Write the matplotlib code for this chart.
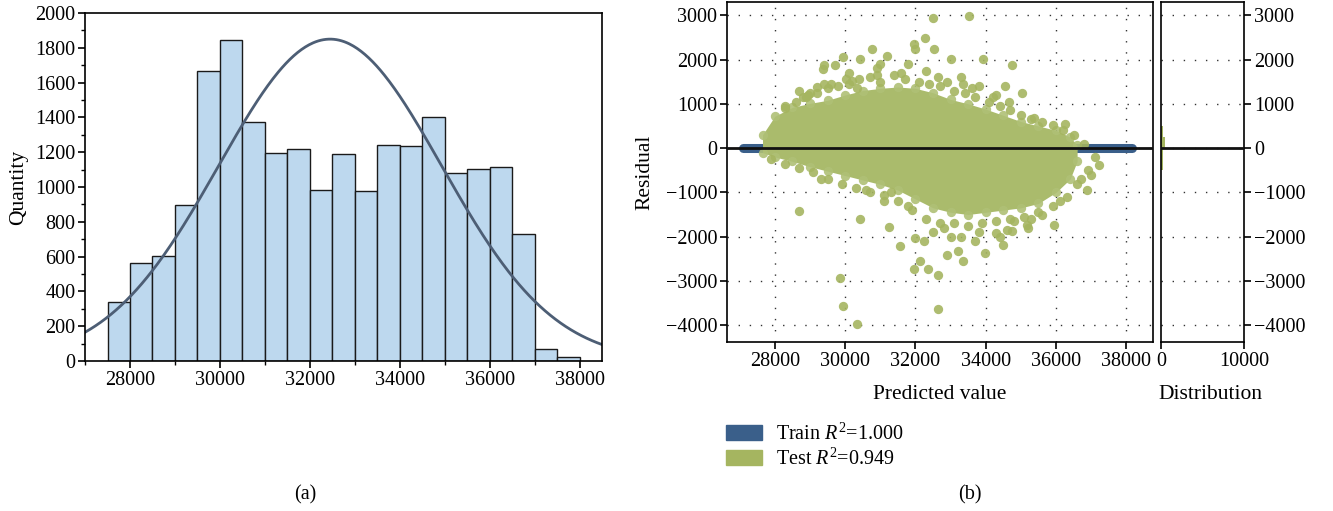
import numpy as np
import matplotlib
matplotlib.use("Agg")
import matplotlib.pyplot as plt
from matplotlib.patches import Patch
from matplotlib.ticker import MultipleLocator

plt.rcParams['font.family'] = ['Liberation Serif', 'DejaVu Serif']
plt.rcParams['mathtext.fontset'] = 'custom'
plt.rcParams['mathtext.rm'] = 'Liberation Serif'
plt.rcParams['mathtext.it'] = 'Liberation Serif:italic'
plt.rcParams['font.size'] = 14.5

# (a) histogram of the target value
bin_left = [27500, 28000, 28500, 29000, 29500, 30000, 30500, 31000, 31500, 32000, 32500,
            33000, 33500, 34000, 34500, 35000, 35500, 36000, 36500, 37000, 37500]
bin_width = 500
counts = [340, 565, 605, 895, 1665, 1845, 1375, 1195, 1220, 985, 1190,
          975, 1240, 1235, 1400, 1080, 1105, 1115, 730, 70, 25]
# fitted normal curve
fit_mean = 32450
fit_std = 2480
fit_peak = 1850

# (b) residual plot
# dense core of the test points: envelope
env_x = [27650, 28000, 28500, 29000, 29500, 30000, 30500, 31000, 31500, 32000,
         32500, 33000, 33500, 34000, 34500, 35000, 35500, 36000, 36400, 36600]
env_upper = [300, 720, 920, 1010, 1080, 1200, 1300, 1350, 1380, 1350,
             1250, 1100, 1000, 880, 740, 600, 500, 400, 250, 60]
env_lower = [-100, -200, -300, -420, -520, -620, -720, -820, -950, -1150,
             -1350, -1450, -1500, -1450, -1400, -1350, -1250, -1000, -700, -300]

# scattered test points outside the core
test_x = [32490, 33530, 32280, 31950, 32000, 32540, 30770, 29945, 30430, 33020,
          33910, 34740, 29400, 29360, 29720, 31000, 31200, 30035, 32650, 33350,
          34540, 35030, 28930, 34670, 29200, 30340, 28700, 30430, 31240, 29840,
          29940, 30350, 32640, 32640, 31960, 32130, 32360, 32890, 33210, 33970,
          34480, 34290, 34740, 35180, 35940, 32000, 32250, 31560, 33340, 36890,
          37210, 36260, 35370, 29000, 29600, 30200, 30900, 31600, 32300, 32900,
          33600, 34200, 28300, 28800, 31300, 31800, 32800, 33800, 34800, 35600,
          36100, 36700, 37000, 33000, 33700, 34400, 35300, 31100, 30600, 29300,
          # upper fringe
          28300, 28600, 28900, 29200, 29500, 29800, 30100, 30400, 30700, 31000,
          31400, 31700, 32100, 32400, 32700, 33100, 33400, 33700, 34100, 34400,
          34700, 35000, 35300, 35600, 35900, 36200, 36500, 36800, 31800, 30900,
          30100, 29400, 28700, 33300, 33800, 34300,
          # lower fringe
          27900, 28300, 28700, 29100, 29500, 29900, 30300, 30700, 31100, 31500,
          31900, 32300, 32700, 33100, 33500, 33900, 34300, 34700, 35100, 35500,
          35900, 36300, 36600, 36900, 37100, 32500, 33300, 34600, 35200]
test_y = [2940, 2990, 2480, 2350, 2230, 2240, 2240, 2050, 2020, 2020,
          2020, 1880, 1880, 1790, 1870, 1900, 2090, 1570, 1600, 1450,
          1400, 1240, 1190, 1030, 1380, 1360, -1430, -1600, -1790, -2930,
          -3570, -3980, -3640, -2860, -2740, -2560, -2720, -2410, -2330, -2370,
          -2180, -1920, -1880, -1730, -1730, -2030, -2090, -2220, -2560, -950,
          -380, 550, 670, 1250, 1450, 1520, 1650, 1700, 1750, 1500,
          1350, 1150, 900, 1150, -1000, -1300, -1800, -1900, -1650, -1500,
          -1200, -700, -600, -2000, -2100, -2000, -1600, -1200, -950, -700,
          950, 1050, 1150, 1250, 1350, 1400, 1450, 1550, 1600, 1500,
          1650, 1550, 1500, 1450, 1400, 1300, 1250, 1150, 1050, 950,
          850, 750, 650, 600, 520, 420, 300, 100, 1900, 1800,
          1700, 1450, 1300, 1600, 1400, 1200,
          -250, -350, -450, -550, -700, -800, -900, -1000, -1050, -1200,
          -1400, -1600, -1700, -1700, -1750, -1700, -1650, -1600, -1550, -1450,
          -1300, -1100, -800, -500, -200, -1900, -2000, -1850, -1800]

# train points sit on the zero line
train_x = [27100, 38150]
train_y = [0, 0]

# distribution of residuals
dist_edges = [-500, -250, 0, 250, 500]
dist_counts = [230, 260, 480, 240]

blue = '#3A5F8A'
green = '#A5B560'
grid_style = dict(color='#333333', linestyle=(0, (1, 7)), linewidth=1.0)

fig = plt.figure(figsize=(13.33, 5.11), dpi=100)
ax1 = fig.add_axes([0.0638, 0.2935, 0.3879, 0.681])
ax2 = fig.add_axes([0.5454, 0.3307, 0.3196, 0.6654])
ax3 = fig.add_axes([0.8710, 0.3307, 0.0623, 0.6654], sharey=ax2)

# ---- (a)
ax1.bar(bin_left, counts, width=bin_width, align='edge', color='#BDD8EE',
        edgecolor='#1a1a1a', linewidth=1.0)
xs = np.linspace(27000, 38500, 400)
ax1.plot(xs, fit_peak * np.exp(-0.5 * ((xs - fit_mean) / fit_std) ** 2),
         color='#4D5E75', linewidth=2)
ax1.set_xlim(27000, 38500)
ax1.set_ylim(0, 2000)
ax1.xaxis.set_major_locator(MultipleLocator(2000))
ax1.xaxis.set_minor_locator(MultipleLocator(1000))
ax1.yaxis.set_major_locator(MultipleLocator(200))
ax1.yaxis.set_minor_locator(MultipleLocator(100))
ax1.tick_params(which='major', direction='out', length=5, width=1.2, pad=2)
ax1.tick_params(which='minor', direction='out', length=3, width=1.0)
ax1.set_ylabel('Quantity', fontsize=15.5)
ax1.yaxis.set_label_coords(-0.11, 0.5)
for s in ax1.spines.values():
    s.set_linewidth(1.2)

# ---- (b) main
ax2.plot(train_x, train_y, color=blue, linewidth=6.5, solid_capstyle='round', zorder=2)
ax2.fill_between(env_x, env_lower, env_upper, color='#AABB6C', linewidth=0, zorder=3)
ax2.scatter(env_x, env_upper, s=45, color='#AFC076', alpha=0.9, linewidths=0, zorder=3)
ax2.scatter(env_x, env_lower, s=45, color='#AFC076', alpha=0.9, linewidths=0, zorder=3)
ax2.scatter(test_x, test_y, s=45, color=green, alpha=0.9, linewidths=0, zorder=3)
ax2.axhline(0, color='#111111', linewidth=2, zorder=4)
ax2.set_xlim(26640, 38760)
ax2.set_ylim(-4380, 3300)
ax2.xaxis.set_major_locator(MultipleLocator(2000))
ax2.yaxis.set_major_locator(MultipleLocator(1000))
ax2.grid(True, **grid_style)
ax2.set_axisbelow(True)
ax2.tick_params(direction='out', length=5, width=1.2, pad=2)
ax2.set_xlabel('Predicted value', fontsize=15.5)
ax2.xaxis.set_label_coords(0.5, -0.125)
ax2.set_ylabel('Residual', fontsize=15.5)
ax2.yaxis.set_label_coords(-0.171, 0.5)
for s in ax2.spines.values():
    s.set_linewidth(1.2)

# ---- (b) distribution
ax3.barh(dist_edges[:-1], dist_counts, height=np.diff(dist_edges), align='edge',
         color=green, linewidth=0)
ax3.axhline(0, color='#111111', linewidth=2, zorder=4)
ax3.set_xlim(0, 10000)
ax3.set_xticks([0, 10000])
ax3.yaxis.grid(True, **grid_style)
ax3.set_axisbelow(True)
ax3.yaxis.tick_right()
ax3.tick_params(direction='out', length=5, width=1.2, pad=2)
ax3.set_xlabel('Distribution', fontsize=15.5)
ax3.xaxis.set_label_coords(0.59, -0.125)
for s in ax3.spines.values():
    s.set_linewidth(1.2)

handles = [Patch(color=blue, label='Train $R^2$=1.000'),
           Patch(color=green, label='Test $R^2$=0.949')]
fig.legend(handles=handles, loc='upper left', bbox_to_anchor=(0.545, 0.172),
           frameon=False, fontsize=14.5, handlelength=1.75, handleheight=0.8,
           handletextpad=0.7, labelspacing=0.2, borderaxespad=0, borderpad=0)

fig.text(305 / 1333, 1 - 495 / 511, '(a)', ha='center', va='center', fontsize=14.5)
fig.text(970 / 1333, 1 - 495 / 511, '(b)', ha='center', va='center', fontsize=14.5)

fig.savefig('out.png', dpi=100)
